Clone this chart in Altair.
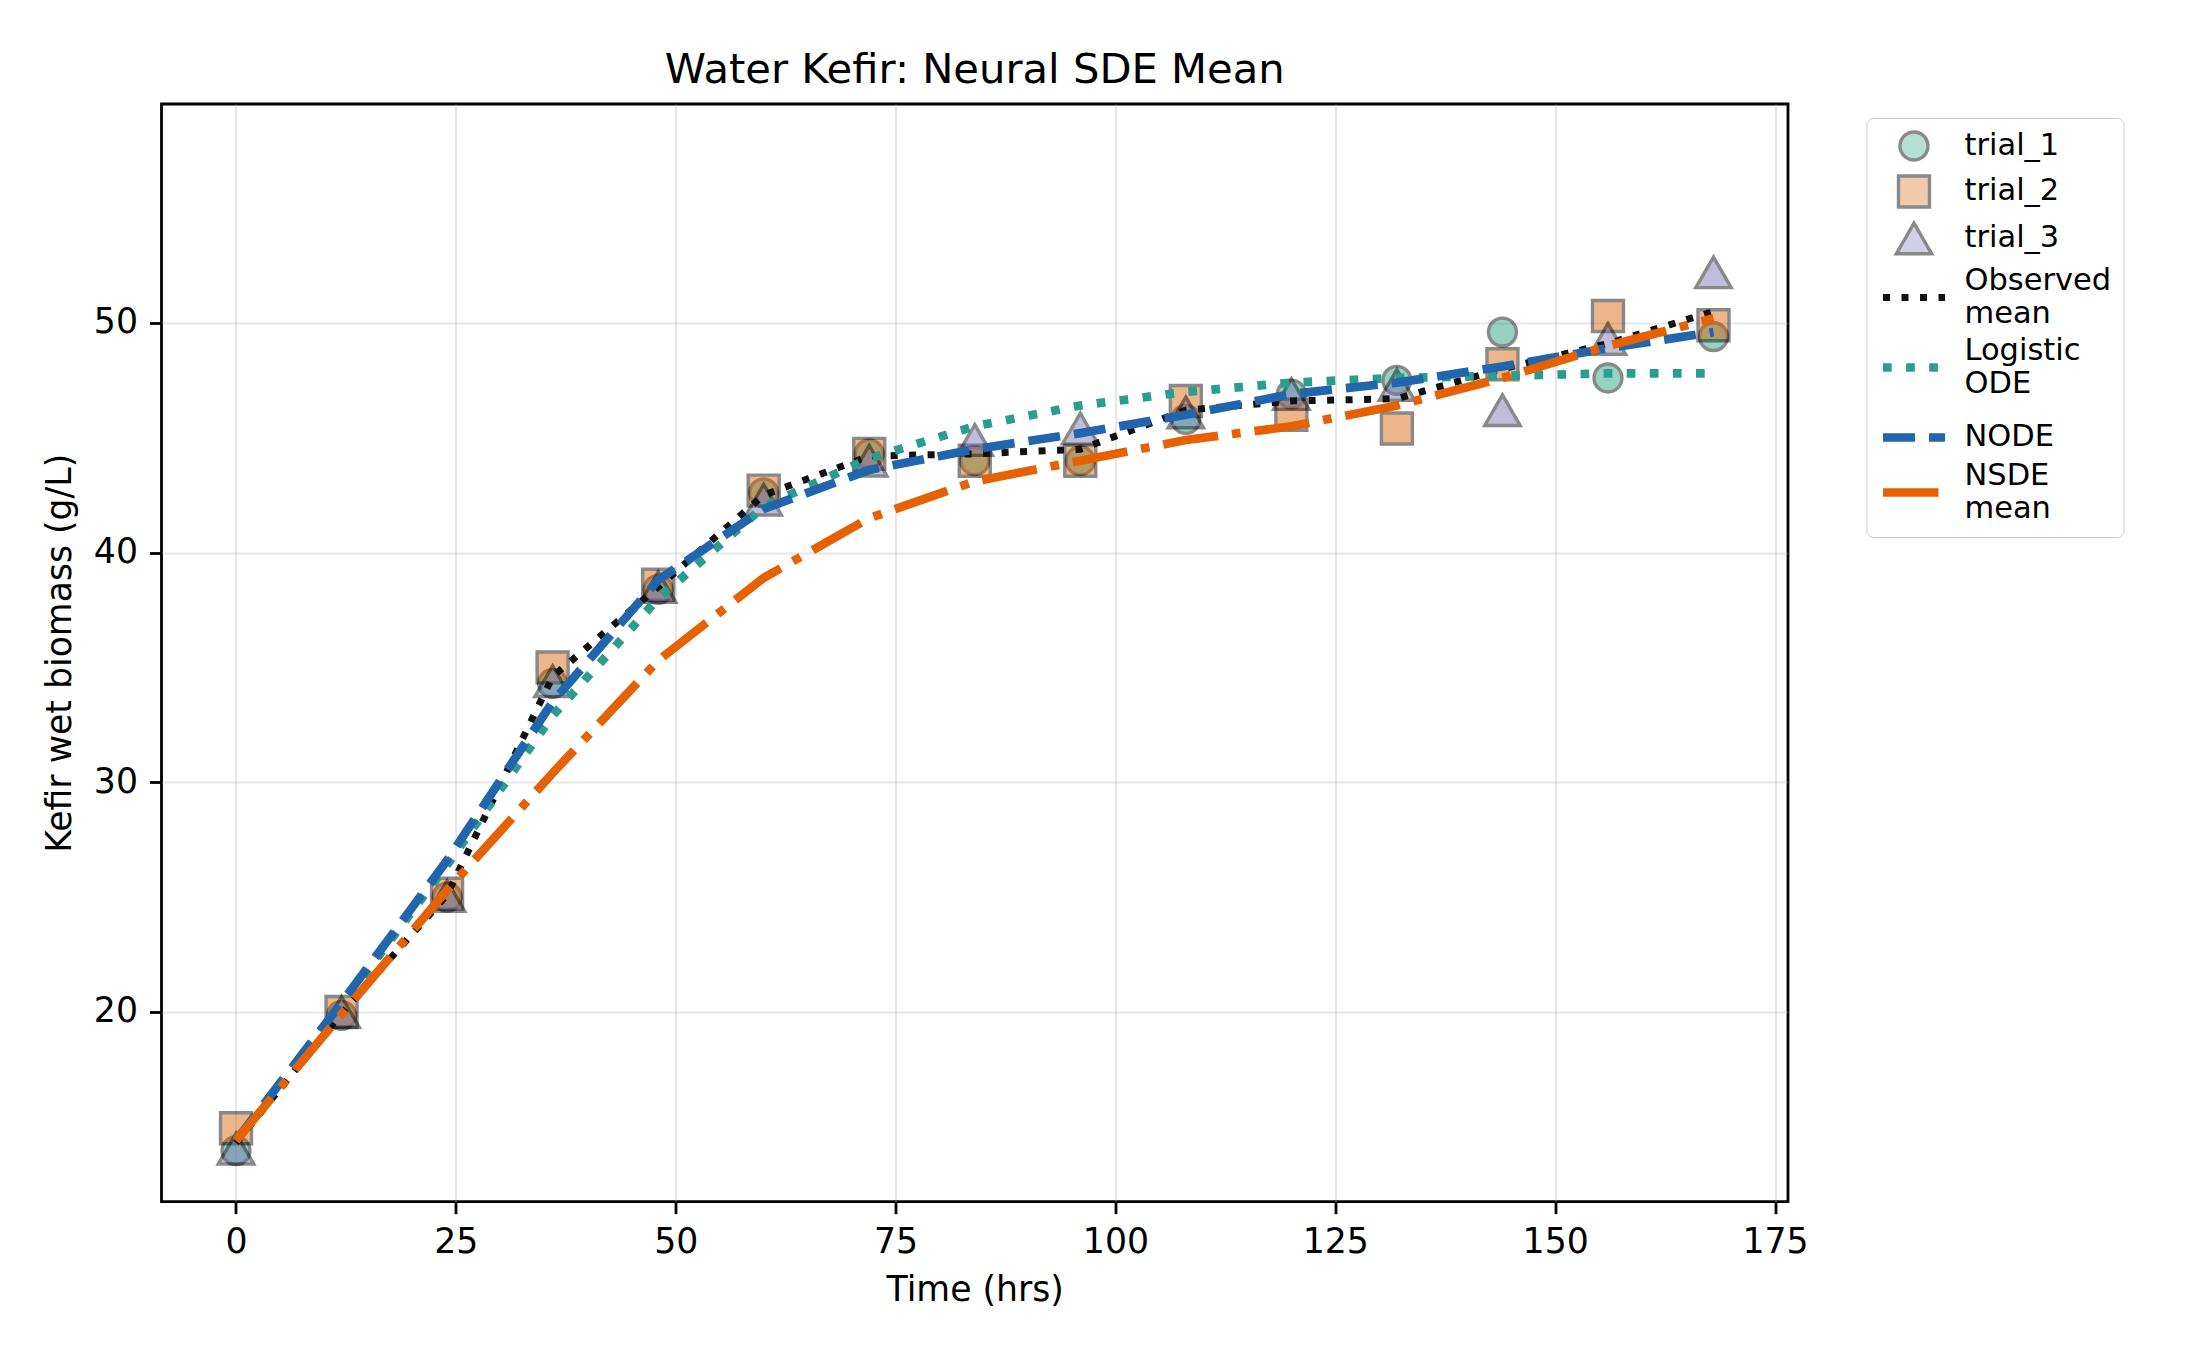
import altair as alt
import pandas as pd

# ---------------- data ----------------
TIMES = [0, 12, 24, 36, 48, 60, 72, 84, 96, 108, 120, 132, 144, 156, 168]

TRIAL_1 = [13.96, 19.85, 25.0, 34.3, 38.4, 42.6, 44.3, 44.0, 44.0, 45.8, 46.9, 47.5, 49.6, 47.6, 49.4]
TRIAL_2 = [14.94, 20.0, 25.15, 35.0, 38.6, 42.7, 44.3, 44.0, 44.0, 46.6, 46.0, 45.4, 48.2, 50.3, 49.9]
TRIAL_3 = [14.05, 20.0, 25.05, 34.4, 38.5, 42.3, 44.0, 44.9, 45.4, 46.1, 46.9, 47.3, 46.2, 49.3, 52.2]

OBSERVED_MEAN = [14.3, 19.95, 25.1, 34.6, 38.5, 42.5, 44.2, 44.3, 44.5, 46.2, 46.6, 46.7, 48.0, 49.1, 50.5]
LOGISTIC_ODE = [14.4, 20.3, 26.4, 32.9, 38.0, 42.0, 44.1, 45.5, 46.4, 47.0, 47.4, 47.6, 47.7, 47.8, 47.8]
NODE = [14.4, 20.4, 26.6, 33.5, 38.8, 41.9, 43.6, 44.5, 45.2, 46.0, 46.9, 47.4, 48.1, 48.9, 49.6]
NSDE_MEAN = [14.4, 19.9, 25.3, 30.4, 35.3, 38.9, 41.5, 43.1, 44.0, 44.9, 45.5, 46.4, 47.6, 49.0, 50.2]

TRIAL_NAMES = ["trial_1", "trial_2", "trial_3"]
LINE_NAMES = ["Observed mean", "Logistic ODE", "NODE", "NSDE mean"]
SERIES = TRIAL_NAMES + LINE_NAMES

X_TICKS = [0, 25, 50, 75, 100, 125, 150, 175]
Y_TICKS = [20, 30, 40, 50]

TITLE = "Water Kefir: Neural SDE Mean"
X_TITLE = "Time (hrs)"
Y_TITLE = "Kefir wet biomass (g/L)"

# ---------------- tables ----------------
trial_values = [TRIAL_1, TRIAL_2, TRIAL_3]
line_values = [OBSERVED_MEAN, LOGISTIC_ODE, NODE, NSDE_MEAN]

pts = pd.DataFrame(
    [{"series": n, "time": t, "value": v}
     for n, vals in zip(TRIAL_NAMES, trial_values)
     for t, v in zip(TIMES, vals)]
)
lns = pd.DataFrame(
    [{"series": n, "time": t, "value": v}
     for n, vals in zip(LINE_NAMES, line_values)
     for t, v in zip(TIMES, vals)]
)

# ---------------- styles ----------------
FONT = "DejaVu Sans"
C_T1, C_T2, C_T3 = "#1b9e77", "#d95f02", "#7570b3"
C_OBS, C_LOG, C_NODE, C_NSDE = "#111111", "#2a9d8f", "#2166ac", "#e66101"
LW_OBS, LW, MEW = 7.0, 8.7, 3.4

fill_scale = alt.Scale(domain=SERIES, range=[C_T1, C_T2, C_T3, "transparent", "transparent", "transparent", "transparent"])
stroke_scale = alt.Scale(domain=SERIES, range=["black", "black", "black", C_OBS, C_LOG, C_NODE, C_NSDE])
shape_scale = alt.Scale(domain=SERIES, range=["circle", "square", "triangle-up", "stroke", "stroke", "stroke", "stroke"])
dash_scale = alt.Scale(domain=SERIES, range=[[1, 0], [1, 0], [1, 0],
                                             [LW_OBS, 11.5], [LW, 14.4], [32, 14], [55.5, 14, LW, 14]])
size_scale = alt.Scale(type="ordinal", domain=SERIES, range=[780, 960, 1250, 3844, 3844, 3844, 3844])
width_scale = alt.Scale(type="ordinal", domain=SERIES, range=[MEW, MEW, MEW, LW_OBS, LW, LW, LW])
opacity_scale = alt.Scale(type="ordinal", domain=SERIES, range=[0.46, 0.46, 0.46, 1, 1, 1, 1])

legend = alt.Legend(
    title=None,
    orient="none",
    legendX=1705,
    legendY=14,
    labelExpr="split(datum.label, ' ')",
    labelBaseline=alt.ExprRef(expr="indexof(datum.label, ' ') >= 0 ? 'line-bottom' : 'middle'"),
    labelFont=FONT,
    labelFontSize=30.5,
    labelColor="black",
    labelLimit=400,
    labelOffset=15,
    padding=12,
    rowPadding=2,
    strokeColor="#cccccc",
    fillColor="white",
    cornerRadius=7,
)

x = alt.X("time:Q",
          scale=alt.Scale(domain=[-8.47, 176.47], nice=False, zero=False),
          axis=alt.Axis(values=X_TICKS, title=X_TITLE, format="d", titlePadding=14))
y = alt.Y("value:Q",
          scale=alt.Scale(domain=[11.74, 59.53], nice=False, zero=False),
          axis=alt.Axis(values=Y_TICKS, title=Y_TITLE, format="d", titlePadding=16))

points = alt.Chart(pts).mark_point(filled=True).encode(
    x=x,
    y=y,
    fill=alt.Fill("series:N", scale=fill_scale, legend=legend),
    stroke=alt.Stroke("series:N", scale=stroke_scale, legend=legend),
    shape=alt.Shape("series:N", scale=shape_scale, legend=legend),
    size=alt.Size("series:N", scale=size_scale, legend=legend),
    strokeWidth=alt.StrokeWidth("series:N", scale=width_scale, legend=legend),
    opacity=alt.Opacity("series:N", scale=opacity_scale, legend=legend),
)

lines = alt.Chart(lns).mark_line(strokeCap="butt", strokeJoin="miter").encode(
    x=x,
    y=y,
    stroke=alt.Stroke("series:N", scale=stroke_scale, legend=legend),
    strokeDash=alt.StrokeDash("series:N", scale=dash_scale, legend=legend),
    strokeWidth=alt.StrokeWidth("series:N", scale=width_scale, legend=legend),
)

chart = alt.layer(points, lines).properties(
    width=1626.5,
    height=1097.7,
    background="white",
    title=alt.TitleParams(TITLE, font=FONT, fontSize=41.7, fontWeight="normal",
                          color="black", anchor="middle", offset=12),
    autosize=alt.AutoSizeParams(type="none"),
    padding={"left": 153.5, "top": 96, "right": 380, "bottom": 120},
).configure_view(
    stroke="black", strokeWidth=2.8,
).configure_axis(
    domain=False,
    grid=True,
    gridColor="#b0b0b0",
    gridOpacity=0.3,
    gridWidth=2,
    ticks=True,
    tickColor="black",
    tickWidth=2.8,
    tickSize=12,
    labelFont=FONT,
    labelFontSize=34.7,
    labelColor="black",
    labelPadding=12,
    titleFont=FONT,
    titleFontSize=34.7,
    titleFontWeight="normal",
    titleColor="black",
)

chart.save("out.html", embed_options={"renderer": "svg", "actions": False})
